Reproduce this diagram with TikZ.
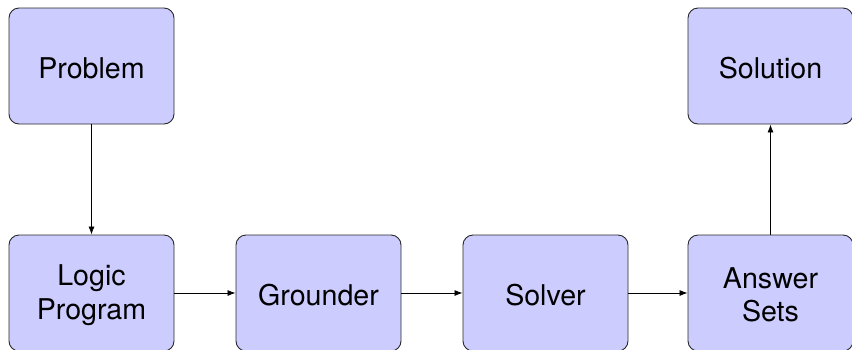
\documentclass[tikz,border=0pt]{standalone}
\usepackage{fontspec}
\setmainfont{TeX Gyre Heros}
\usetikzlibrary{arrows.meta}
\definecolor{boxfill}{RGB}{204,204,255}
\definecolor{boxline}{RGB}{40,40,40}
\tikzset{
  stagebox/.style={draw=boxline, line width=0.9pt, fill=boxfill, rounded corners=10pt,
    minimum width=165pt, minimum height=116pt, inner sep=0pt, align=center,
    font=\fontsize{28.6}{33.5}\selectfont},
  label/.style={font=\fontsize{28.6}{33.5}\selectfont, align=center, inner sep=0pt},
  flow/.style={line width=0.8pt, -{Latex[length=8pt,width=6pt]}}
}
\begin{document}
\begin{tikzpicture}[x=1pt,y=-1pt]
  \useasboundingbox (0,0) rectangle (852,349);
  \node[stagebox] (problem)  at (91.5,66)   {};
  \node[stagebox] (solution) at (770.5,66)  {};
  \node[stagebox] (logic)    at (91.5,293)  {};
  \node[stagebox] (grounder) at (318.5,293) {};
  \node[stagebox] (solver)   at (545.5,293) {};
  \node[stagebox] (answers)  at (770.5,293) {};
  % box captions, set slightly below the geometric centre
  \node[label] (tproblem)  at ([yshift=-2pt]problem.center)  {Problem};
  \node[label] (tsolution) at ([yshift=-2pt]solution.center) {Solution};
  \node[label] (tlogic)    at ([yshift=-2pt]logic.center)    {Logic\\Program};
  \node[label] (tgrounder) at ([yshift=-2pt]grounder.center) {Grounder};
  \node[label] (tsolver)   at ([yshift=-2pt]solver.center)   {Solver};
  \node[label] (tanswers)  at ([yshift=-2pt]answers.center)  {Answer\\Sets};
  \draw[flow] (problem) -- (logic);
  \draw[flow] (logic) -- (grounder);
  \draw[flow] (grounder) -- (solver);
  \draw[flow] (solver) -- (answers);
  \draw[flow] (answers) -- (solution);
\end{tikzpicture}
\end{document}
